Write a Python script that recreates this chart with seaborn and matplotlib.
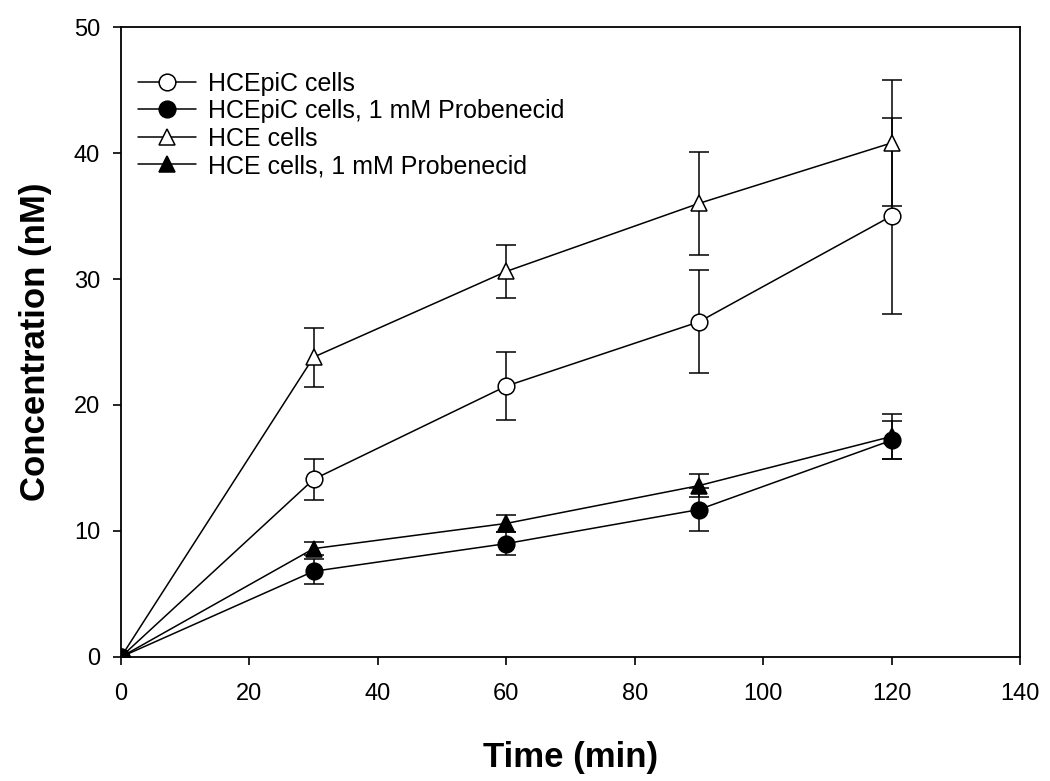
import numpy as np
import pandas as pd
import matplotlib
matplotlib.use("Agg")
import matplotlib.pyplot as plt
import seaborn as sns

# -----------------------------
# Data
# -----------------------------
time_min = [0, 30, 60, 90, 120]

series_names = [
    "HCEpiC cells",
    "HCEpiC cells, 1 mM Probenecid",
    "HCE cells",
    "HCE cells, 1 mM Probenecid",
]

hcepic = [0, 14.1, 21.5, 26.6, 35.0]
hcepic_err = [0, 1.65, 2.7, 4.1, 7.8]

hcepic_prob = [0, 6.8, 9.0, 11.7, 17.2]
hcepic_prob_err = [0, 1.0, 0.9, 1.7, 1.5]

hce = [0, 23.8, 30.6, 36.0, 40.8]
hce_err = [0, 2.35, 2.1, 4.1, 5.0]

hce_prob = [0, 8.6, 10.6, 13.6, 17.5]
hce_prob_err = [0, 0.5, 0.7, 0.9, 1.8]

values = [hcepic, hcepic_prob, hce, hce_prob]
errors = [hcepic_err, hcepic_prob_err, hce_err, hce_prob_err]
markers = ["o", "o", "^", "^"]
faces = ["white", "black", "white", "black"]

sns.set_theme(style="ticks")
plt.rcParams["font.family"] = ["Liberation Sans", "DejaVu Sans"]
plt.rcParams["text.color"] = "black"
plt.rcParams["axes.labelcolor"] = "black"
plt.rcParams["xtick.color"] = "black"
plt.rcParams["ytick.color"] = "black"

fig = plt.figure(figsize=(10.5, 7.81), dpi=100)
ax = fig.add_axes([0.1152, 0.1588, 0.8562, 0.8066])

for name, vals, errs, mk, fc in zip(series_names, values, errors, markers, faces):
    df = pd.DataFrame({"time": time_min, "conc": vals})
    ax.errorbar(df["time"], df["conc"], yerr=errs, fmt="none",
                ecolor="black", elinewidth=1.1, capsize=7, capthick=1.1, zorder=2)
    sns.lineplot(data=df, x="time", y="conc", ax=ax, color="black",
                 linewidth=1.1, marker=mk, markersize=12 if mk == "o" else 11,
                 markerfacecolor=fc, markeredgecolor="black", markeredgewidth=1.1,
                 label=name, zorder=3)

ax.set_xlim(0, 140)
ax.set_ylim(0, 50)
ax.set_xticks(np.arange(0, 141, 20))
ax.set_yticks(np.arange(0, 51, 10))
ax.tick_params(axis="x", direction="out", length=6, width=1.2, labelsize=17, pad=13)
ax.tick_params(axis="y", direction="out", length=6, width=1.2, labelsize=17, pad=9)
for s in ax.spines.values():
    s.set_linewidth(1.3)
    s.set_color("black")
    s.set_visible(True)

ax.set_xlabel("Time (min)", fontsize=25, fontweight="bold", labelpad=26)
ax.set_ylabel("Concentration (nM)", fontsize=25, fontweight="bold", labelpad=16)

ax.legend(loc="upper left", bbox_to_anchor=(0.008, 0.945), frameon=False,
          fontsize=18, handlelength=2.3, handletextpad=0.5, labelspacing=0.14,
          borderaxespad=0.0)

fig.savefig("out.png", dpi=100)
